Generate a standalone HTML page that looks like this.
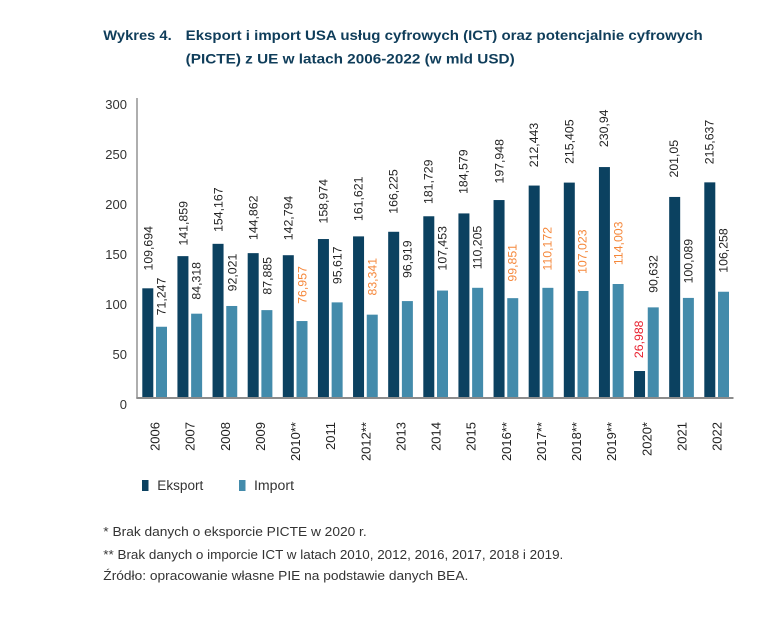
<!DOCTYPE html>
<html>
<head>
<meta charset="utf-8">
<style>
html,body{margin:0;padding:0;background:#fff;}
svg{display:block;}
text{font-family:"Liberation Sans",sans-serif;}
</style>
</head>
<body>
<svg width="784" height="625" viewBox="0 0 784 625" xmlns="http://www.w3.org/2000/svg">
<rect width="784" height="625" fill="#fff"/>
<!-- Title -->
<g fill="#0f3d5a" font-weight="bold" font-size="14" dominant-baseline="central">
<text x="103.3" y="35" textLength="68.4" lengthAdjust="spacingAndGlyphs">Wykres 4.</text>
<text x="185.7" y="35" textLength="517" lengthAdjust="spacingAndGlyphs">Eksport i import USA usług cyfrowych (ICT) oraz potencjalnie cyfrowych</text>
<text x="185.7" y="58.3" textLength="329" lengthAdjust="spacingAndGlyphs">(PICTE) z UE w latach 2006-2022 (w mld USD)</text>
</g>
<!-- Y axis labels -->
<g fill="#333" font-size="13" text-anchor="end" dominant-baseline="central">
<text x="127" y="104.5">300</text>
<text x="127" y="154.5">250</text>
<text x="127" y="204.5">200</text>
<text x="127" y="254.5">150</text>
<text x="127" y="304.5">100</text>
<text x="127" y="354.5">50</text>
<text x="127" y="404.5">0</text>
</g>
<!-- Export bars -->
<g fill="#0b4160">
<rect x="142.3" y="288.31" width="11" height="109.69"/>
<rect x="177.43" y="256.14" width="11" height="141.86"/>
<rect x="212.55" y="243.83" width="11" height="154.17"/>
<rect x="247.68" y="253.14" width="11" height="144.86"/>
<rect x="282.8" y="255.21" width="11" height="142.79"/>
<rect x="317.93" y="239.03" width="11" height="158.97"/>
<rect x="353.05" y="236.38" width="11" height="161.62"/>
<rect x="388.18" y="231.78" width="11" height="166.22"/>
<rect x="423.3" y="216.27" width="11" height="181.73"/>
<rect x="458.43" y="213.42" width="11" height="184.58"/>
<rect x="493.55" y="200.05" width="11" height="197.95"/>
<rect x="528.68" y="185.56" width="11" height="212.44"/>
<rect x="563.8" y="182.6" width="11" height="215.4"/>
<rect x="598.93" y="167.06" width="11" height="230.94"/>
<rect x="634.05" y="371.01" width="11" height="26.99"/>
<rect x="669.18" y="196.95" width="11" height="201.05"/>
<rect x="704.3" y="182.36" width="11" height="215.64"/>
</g>
<!-- Import bars -->
<g fill="#438bab">
<rect x="156" y="326.75" width="11" height="71.25"/>
<rect x="191.13" y="313.68" width="11" height="84.32"/>
<rect x="226.25" y="305.98" width="11" height="92.02"/>
<rect x="261.38" y="310.12" width="11" height="87.88"/>
<rect x="296.5" y="321.04" width="11" height="76.96"/>
<rect x="331.63" y="302.38" width="11" height="95.62"/>
<rect x="366.75" y="314.66" width="11" height="83.34"/>
<rect x="401.88" y="301.08" width="11" height="96.92"/>
<rect x="437" y="290.55" width="11" height="107.45"/>
<rect x="472.13" y="287.8" width="11" height="110.2"/>
<rect x="507.25" y="298.15" width="11" height="99.85"/>
<rect x="542.38" y="287.83" width="11" height="110.17"/>
<rect x="577.5" y="290.98" width="11" height="107.02"/>
<rect x="612.63" y="284.0" width="11" height="114.0"/>
<rect x="647.75" y="307.37" width="11" height="90.63"/>
<rect x="682.88" y="297.91" width="11" height="100.09"/>
<rect x="718" y="291.74" width="11" height="106.26"/>
</g>
<!-- Axes -->
<line x1="137" y1="98" x2="137" y2="398" stroke="#8c8c8c" stroke-width="1.4"/>
<line x1="136.3" y1="398" x2="733.5" y2="398" stroke="#8c8c8c" stroke-width="2"/>
<!-- Export value labels -->
<g font-size="12.3" fill="#222" text-anchor="middle" dominant-baseline="central">
<text transform="translate(148.3,248.3) rotate(-90)">109,694</text>
<text transform="translate(183.3,223.3) rotate(-90)">141,859</text>
<text transform="translate(218.3,209.7) rotate(-90)">154,167</text>
<text transform="translate(253.3,217.8) rotate(-90)">144,862</text>
<text transform="translate(288.3,218) rotate(-90)">142,794</text>
<text transform="translate(323.3,201.3) rotate(-90)">158,974</text>
<text transform="translate(358.3,198.8) rotate(-90)">161,621</text>
<text transform="translate(393.3,191.5) rotate(-90)">166,225</text>
<text transform="translate(428.7,181.8) rotate(-90)">181,729</text>
<text transform="translate(463.3,171.7) rotate(-90)">184,579</text>
<text transform="translate(499.3,161.3) rotate(-90)">197,948</text>
<text transform="translate(534,145) rotate(-90)">212,443</text>
<text transform="translate(569.3,141.7) rotate(-90)">215,405</text>
<text transform="translate(604,128.3) rotate(-90)">230,94</text>
<text transform="translate(639,339.3) rotate(-90)" fill="#e8202e">26,988</text>
<text transform="translate(674,158.7) rotate(-90)">201,05</text>
<text transform="translate(709.3,142) rotate(-90)">215,637</text>
</g>
<!-- Import value labels -->
<g font-size="12.3" fill="#222" text-anchor="middle" dominant-baseline="central">
<text transform="translate(161.7,296.5) rotate(-90)">71,247</text>
<text transform="translate(196.7,280.8) rotate(-90)">84,318</text>
<text transform="translate(232.3,272.5) rotate(-90)">92,021</text>
<text transform="translate(267.3,275.8) rotate(-90)">87,885</text>
<text transform="translate(302.7,285) rotate(-90)" fill="#f5873a">76,957</text>
<text transform="translate(337.3,265.3) rotate(-90)">95,617</text>
<text transform="translate(372.3,276.7) rotate(-90)" fill="#f5873a">83,341</text>
<text transform="translate(407.3,259.2) rotate(-90)">96,919</text>
<text transform="translate(442.7,248.3) rotate(-90)">107,453</text>
<text transform="translate(477.3,247.5) rotate(-90)">110,205</text>
<text transform="translate(512.7,262.8) rotate(-90)" fill="#f5873a">99,851</text>
<text transform="translate(547.3,248.7) rotate(-90)" fill="#f5873a">110,172</text>
<text transform="translate(582.7,251.7) rotate(-90)" fill="#f5873a">107,023</text>
<text transform="translate(618.3,243.3) rotate(-90)" fill="#f5873a">114,003</text>
<text transform="translate(653.3,274) rotate(-90)">90,632</text>
<text transform="translate(688.3,261.2) rotate(-90)">100,089</text>
<text transform="translate(723.3,250.5) rotate(-90)">106,258</text>
</g>
<!-- X axis labels -->
<g font-size="13" fill="#222" text-anchor="end" dominant-baseline="central">
<text transform="translate(155,422) rotate(-90)">2006</text>
<text transform="translate(190.13,422) rotate(-90)">2007</text>
<text transform="translate(225.25,422) rotate(-90)">2008</text>
<text transform="translate(260.38,422) rotate(-90)">2009</text>
<text transform="translate(295.5,422) rotate(-90)">2010**</text>
<text transform="translate(330.63,422) rotate(-90)">2011</text>
<text transform="translate(365.75,422) rotate(-90)">2012**</text>
<text transform="translate(400.88,422) rotate(-90)">2013</text>
<text transform="translate(436,422) rotate(-90)">2014</text>
<text transform="translate(471.13,422) rotate(-90)">2015</text>
<text transform="translate(506.25,422) rotate(-90)">2016**</text>
<text transform="translate(541.38,422) rotate(-90)">2017**</text>
<text transform="translate(576.5,422) rotate(-90)">2018**</text>
<text transform="translate(611.63,422) rotate(-90)">2019**</text>
<text transform="translate(646.75,422) rotate(-90)">2020*</text>
<text transform="translate(681.88,422) rotate(-90)">2021</text>
<text transform="translate(717,422) rotate(-90)">2022</text>
</g>
<!-- Legend -->
<rect x="142" y="480" width="6.5" height="11" fill="#0b4160"/>
<text x="157.3" y="485.7" font-size="13.5" fill="#333" dominant-baseline="central" textLength="46" lengthAdjust="spacingAndGlyphs">Eksport</text>
<rect x="239" y="480" width="6.5" height="11" fill="#438bab"/>
<text x="254" y="485.7" font-size="13.5" fill="#333" dominant-baseline="central" textLength="40" lengthAdjust="spacingAndGlyphs">Import</text>
<!-- Footnotes -->
<g font-size="13" fill="#333" dominant-baseline="central">
<text x="103.3" y="531.7" textLength="263.4" lengthAdjust="spacingAndGlyphs">* Brak danych o eksporcie PICTE w 2020 r.</text>
<text x="103.3" y="554.3" textLength="460" lengthAdjust="spacingAndGlyphs">** Brak danych o imporcie ICT w latach 2010, 2012, 2016, 2017, 2018 i 2019.</text>
<text x="103.3" y="575.7" textLength="365" lengthAdjust="spacingAndGlyphs">Źródło: opracowanie własne PIE na podstawie danych BEA.</text>
</g>
</svg>
</body>
</html>
